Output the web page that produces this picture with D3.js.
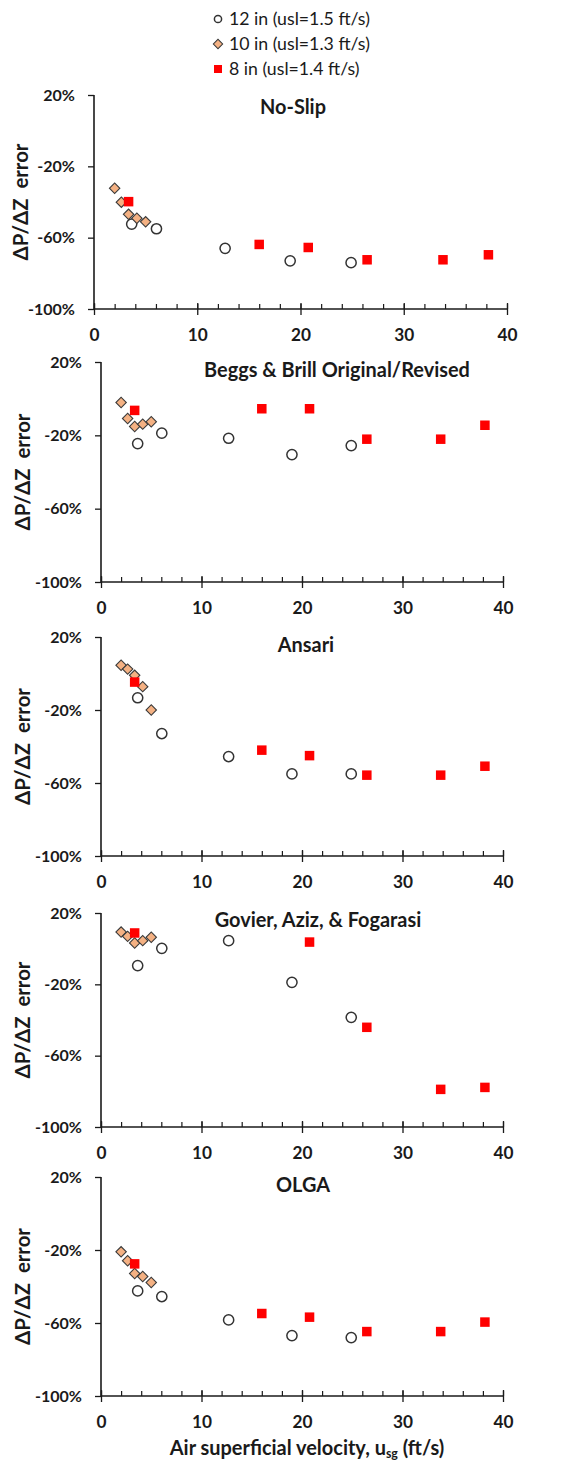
<!DOCTYPE html>
<html>
<head>
<meta charset="utf-8">
<script src="https://cdn.jsdelivr.net/npm/d3@7"></script>
<style>
  html, body { margin: 0; padding: 0; background: #fff; }
  svg { display: block; }
  text { font-family: Lato, "Open Sans", sans-serif; fill: #1a1a1a; }
</style>
</head>
<body>
<svg id="chart" width="583" height="1465"></svg>
<script>
// ---------- data ----------
const seriesNames = ["12 in (usl=1.5 ft/s)", "10 in (usl=1.3 ft/s)", "8 in (usl=1.4 ft/s)"];
const panelTitles = ["No-Slip", "Beggs & Brill Original/Revised", "Ansari", "Govier, Aziz, & Fogarasi", "OLGA"];

// air superficial velocity (ft/s) for each pipe size
const x12in = [3.65, 6.05, 12.7, 19.0, 24.9];
const x10in = [2.0, 2.65, 3.35, 4.15, 5.0];
const x8in  = [3.35, 16.0, 20.75, 26.45, 33.8, 38.2];

// dP/dZ error (%) per model
const noSlip12 = [-52.4, -55, -66, -73, -74];
const noSlip10 = [-32.3, -40.1, -46.9, -49.1, -51.1];
const noSlip8  = [-39.8, -63.8, -65.5, -72.4, -72.4, -69.6];

const beggs12 = [-24.5, -18.8, -21.6, -30.5, -25.6];
const beggs10 = [-2.1, -10.8, -15.2, -13.9, -12.6];
const beggs8  = [-6.4, -5.5, -5.5, -22.1, -22.1, -14.5];

const ansari12 = [-13.3, -32.9, -45.5, -55, -55];
const ansari10 = [4.5, 2.4, -1.0, -7.2, -20.0];
const ansari8  = [-4.7, -42.0, -45.0, -55.7, -55.7, -50.8];

const govier12 = [-9.5, 0.2, 4.5, -18.9, -38.5];
const govier10 = [9.3, 6.9, 3.2, 4.5, 6.4];
const govier8  = [8.8, null, 3.7, -44.1, -78.9, -77.8];

const olga12 = [-42.4, -45.5, -58.3, -66.9, -68.0];
const olga10 = [-21.0, -25.9, -32.9, -34.5, -37.8];
const olga8  = [-27.6, -54.8, -56.8, -64.7, -64.7, -59.5];

const yTicks = [20, -20, -60, -100];
const xTicks = [0, 10, 20, 30, 40];
const xMinorTicks = d3.range(0, 41, 2);

const panelData = [
  [noSlip12, noSlip10, noSlip8],
  [beggs12, beggs10, beggs8],
  [ansari12, ansari10, ansari8],
  [govier12, govier10, govier8],
  [olga12, olga10, olga8]
];

// ---------- layout ----------
const layout = [
  {left: 94,  right: 507, top: 95,   bottom: 309,  tx: 293, ty: 114, ytx: 21},
  {left: 101, right: 503, top: 362,  bottom: 582,  tx: 337, ty: 377, ytx: 23},
  {left: 101, right: 503, top: 637,  bottom: 856,  tx: 306, ty: 652, ytx: 23},
  {left: 101, right: 503, top: 913,  bottom: 1127, tx: 318, ty: 927, ytx: 23},
  {left: 101, right: 503, top: 1177, bottom: 1396, tx: 303, ty: 1192, ytx: 23}
];

const svg = d3.select("#chart");

// find the font size that makes a sample string reach a target width
function fitSize(str, target, weight) {
  const t = svg.append("text").attr("font-size", 20).attr("font-weight", weight).text(str);
  const w = t.node().getComputedTextLength();
  t.remove();
  return 20 * target / w;
}
const fsTitle  = fitSize("Beggs & Brill Original/Revised", 266, "bold");
const fsLegend = fitSize("12 in (usl=1.5 ft/s)", 141, "normal");
const fsYTick  = fitSize("-100%", 47, "bold");
const fsXTick  = fitSize("40", 20, "bold");
const fsYTitle = fitSize("ΔP/ΔZ  error", 112, "bold");
const fsXTitle = fitSize("Air superficial velocity, usg (ft/s)", 282, "bold");

const diamond = d3.symbol().type(d3.symbolSquare).size(54);

function drawMarkers(g, kind, pts, small) {
  if (kind === 0) {
    g.selectAll("circle").data(pts).join("circle")
      .attr("cx", d => d[0]).attr("cy", d => d[1]).attr("r", small ? 3.6 : 5.1)
      .attr("fill", "#fff").attr("stroke", "#333").attr("stroke-width", 1.5);
  } else if (kind === 1) {
    g.selectAll("path").data(pts).join("path")
      .attr("d", diamond)
      .attr("transform", d => `translate(${d[0]},${d[1]}) rotate(45)` + (small ? " scale(0.9)" : ""))
      .attr("fill", "#f4b183").attr("stroke", "#3a3a3a").attr("stroke-width", 1.1);
  } else {
    const s = small ? 8 : 9.5;
    g.selectAll("rect").data(pts).join("rect")
      .attr("x", d => d[0] - s / 2).attr("y", d => d[1] - s / 2)
      .attr("width", s).attr("height", s).attr("fill", "#ff0000");
  }
}

const xsBySeries = [x12in, x10in, x8in];

panelData.forEach((series, i) => {
  const L = layout[i];
  const x = d3.scaleLinear().domain([0, 40]).range([L.left, L.right]);
  const y = d3.scaleLinear().domain([-100, 20]).range([L.bottom, L.top]);
  const g = svg.append("g");

  // y axis
  const yAxis = d3.axisLeft(y).tickValues(yTicks).tickSize(6).tickPadding(13)
    .tickFormat(d => d + "%");
  const ya = g.append("g").attr("transform", `translate(${L.left},0)`).call(yAxis);
  ya.select(".domain").attr("stroke", "#1a1a1a").attr("stroke-width", 1.6).attr("d", `M0,${L.top}V${L.bottom}`);
  ya.selectAll(".tick line").attr("stroke", "#1a1a1a").attr("stroke-width", 1.3);
  ya.selectAll(".tick text").attr("font-size", fsYTick).attr("font-weight", "bold")
    .style("font-family", "Lato, sans-serif").attr("fill", "#1a1a1a");

  // x minor ticks (inside)
  const xm = d3.axisBottom(x).tickValues(xMinorTicks).tickSize(-5).tickFormat("");
  const xma = g.append("g").attr("transform", `translate(0,${L.bottom})`).call(xm);
  xma.select(".domain").remove();
  xma.selectAll(".tick line").attr("stroke", "#1a1a1a").attr("stroke-width", 1.2);

  // x major ticks (crossing the axis)
  const xAxis = d3.axisBottom(x).tickValues(xTicks).tickSize(6).tickPadding(14);
  const xa = g.append("g").attr("transform", `translate(0,${L.bottom})`).call(xAxis);
  xa.select(".domain").attr("stroke", "#1a1a1a").attr("stroke-width", 1.6).attr("d", `M${L.left},0H${L.right}`);
  xa.selectAll(".tick line").attr("stroke", "#1a1a1a").attr("stroke-width", 1.3).attr("y1", -6).attr("y2", 6);
  xa.selectAll(".tick text").attr("font-size", fsXTick).attr("font-weight", "bold")
    .style("font-family", "Lato, sans-serif").attr("fill", "#1a1a1a");

  // y axis title
  g.append("text")
    .attr("transform", `translate(${L.ytx},${(L.top + L.bottom) / 2}) rotate(-90)`)
    .attr("text-anchor", "middle").attr("dy", "0.36em")
    .attr("font-size", fsYTitle).attr("font-weight", "bold")
    .attr("xml:space", "preserve")
    .text("ΔP/ΔZ  error");

  // panel title
  g.append("text").attr("x", L.tx).attr("y", L.ty).attr("text-anchor", "middle")
    .attr("font-size", fsTitle).attr("font-weight", "bold").text(panelTitles[i]);

  // markers: circles, diamonds, squares
  series.forEach((vals, k) => {
    const pts = [];
    vals.forEach((v, j) => { if (v !== null) pts.push([x(xsBySeries[k][j]), y(v)]); });
    drawMarkers(g.append("g"), k, pts, false);
  });
});

// x axis title
const xt = svg.append("text").attr("x", 307).attr("y", 1455).attr("text-anchor", "middle")
  .attr("font-size", fsXTitle).attr("font-weight", "bold");
xt.append("tspan").text("Air superficial velocity, u");
xt.append("tspan").style("font-size", "0.62em").attr("dy", "0.25em").text("sg");
xt.append("tspan").attr("dy", "-0.16em").text(" (ft/s)");

// legend
const legend = svg.append("g");
const legendY = [19, 44, 69];
seriesNames.forEach((name, k) => {
  const lg = legend.append("g");
  drawMarkers(lg, k, [[218, legendY[k]]], true);
  lg.append("text").attr("x", 229).attr("y", legendY[k]).attr("dy", "0.36em")
    .attr("font-size", fsLegend).text(name);
});
</script>
</body>
</html>
